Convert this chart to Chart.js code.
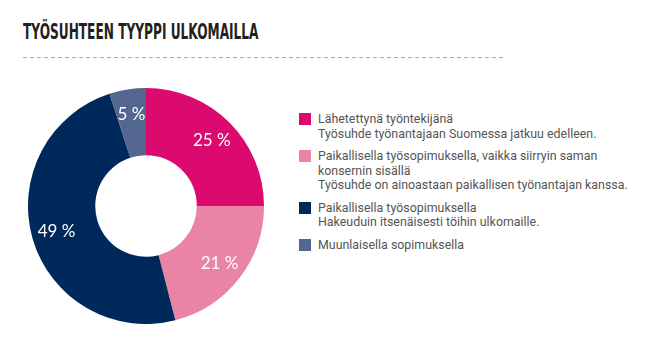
<!DOCTYPE html>
<html>
<head>
<meta charset="utf-8">
<script src="https://cdn.jsdelivr.net/npm/chart.js@4"></script>
<style>
  html, body { margin: 0; padding: 0; background: #fff; }
  body { width: 659px; height: 346px; position: relative; overflow: hidden; }
  #title {
    position: absolute; left: 23px; top: 20px;
    font-family: "DejaVu Sans Condensed", "Liberation Sans Narrow", sans-serif;
    font-stretch: condensed; font-weight: bold; font-size: 20.5px;
    color: #231f1c; white-space: nowrap;
    transform: scaleX(0.66); transform-origin: left top;
  }
  #rule {
    position: absolute; left: 23px; top: 57px; width: 480px; height: 1px;
    background: repeating-linear-gradient(to right, #aaa 0 4px, transparent 4px 7px);
  }
  #chartBox { position: absolute; left: 28px; top: 88px; width: 236px; height: 236px; }
  #legend { position: absolute; left: 299px; top: 112px; font-family: Roboto, sans-serif; font-size: 12.4px; color: #555; }
  .item { position: relative; padding-left: 19px; margin-bottom: 8px; line-height: 14.5px; }
  .item .box { position: absolute; left: 0; top: 1px; width: 12px; height: 12px; }
  .item .lbl { white-space: pre-line; }
  .item .desc { white-space: nowrap; }
</style>
</head>
<body>
<div id="title">TYÖSUHTEEN TYYPPI ULKOMAILLA</div>
<div id="rule"></div>
<div id="chartBox"><canvas id="jobChart"></canvas></div>
<div id="legend"></div>
<script>
var labels = [
  "Lähetettynä työntekijänä",
  "Paikallisella työsopimuksella, vaikka siirryin saman\nkonsernin sisällä",
  "Paikallisella työsopimuksella",
  "Muunlaisella sopimuksella"
];
var descriptions = [
  "Työsuhde työnantajaan Suomessa jatkuu edelleen.",
  "Työsuhde on ainoastaan paikallisen työnantajan kanssa.",
  "Hakeuduin itsenäisesti töihin ulkomaille.",
  ""
];
var values = [25, 21, 49, 5];
var colors = ['#dc0a6f', '#e984a5', '#00295b', '#536690'];

// percentage text inside each slice
var sliceLabels = {
  id: 'sliceLabels',
  afterDatasetsDraw: function(chart) {
    var ctx = chart.ctx;
    var meta = chart.getDatasetMeta(0);
    ctx.save();
    ctx.font = '400 17px Lato, sans-serif';
    ctx.fillStyle = '#fff';
    ctx.textAlign = 'center';
    ctx.textBaseline = 'middle';
    meta.data.forEach(function(arc, i) {
      var p = arc.getProps(['x', 'y', 'startAngle', 'endAngle', 'innerRadius', 'outerRadius'], true);
      var mid = (p.startAngle + p.endAngle) / 2;
      var r = p.innerRadius + (p.outerRadius - p.innerRadius) * 0.63;
      ctx.fillText(values[i] + ' %', p.x + Math.cos(mid) * r, p.y + Math.sin(mid) * r);
    });
    ctx.restore();
  }
};

new Chart(document.getElementById('jobChart'), {
  type: 'doughnut',
  data: {
    labels: labels,
    datasets: [{
      data: values,
      backgroundColor: colors,
      borderWidth: 0
    }]
  },
  options: {
    responsive: true,
    maintainAspectRatio: false,
    animation: false,
    cutout: '43%',
    layout: { padding: 0 },
    plugins: {
      legend: { display: false },
      tooltip: { enabled: false }
    }
  },
  plugins: [sliceLabels]
});

var legend = document.getElementById('legend');
labels.forEach(function(label, i) {
  var item = document.createElement('div');
  item.className = 'item';
  var html = '<span class="box" style="background:' + colors[i] + '"></span>' +
             '<div class="lbl">' + label + '</div>';
  if (descriptions[i]) html += '<div class="desc">' + descriptions[i] + '</div>';
  item.innerHTML = html;
  legend.appendChild(item);
});
</script>
</body>
</html>
